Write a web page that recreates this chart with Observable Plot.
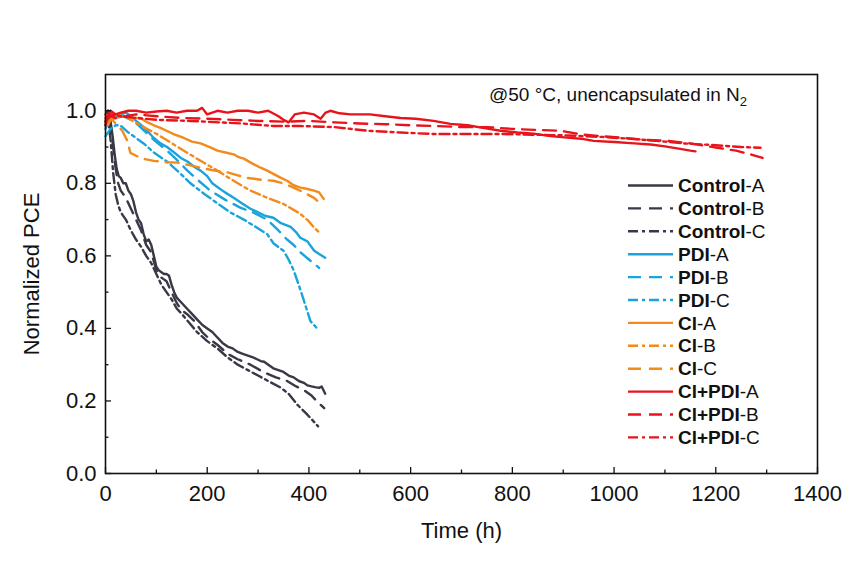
<!DOCTYPE html>
<html>
<head>
<meta charset="utf-8">
<script src="https://cdn.jsdelivr.net/npm/d3@7"></script>
<script src="https://cdn.jsdelivr.net/npm/@observablehq/plot@0.6"></script>
<style>
  html, body { margin: 0; padding: 0; background: #fff; }
</style>
</head>
<body>
<div id="chart"></div>
<script>
// ---- data: [time (h), normalized PCE] ----
const controlA = [[0,0.99],[5,1.0],[10,0.97],[14,0.93],[18,0.88],[22,0.84],[26,0.82],[30,0.815],[35,0.80],[40,0.80],[45,0.78],[50,0.77],[55,0.75],[60,0.72],[65,0.70],[70,0.69],[75,0.66],[80,0.64],[85,0.645],[90,0.63],[95,0.60],[100,0.57],[105,0.56],[110,0.555],[115,0.55],[120,0.55],[125,0.545],[130,0.52],[135,0.50],[140,0.485],[150,0.47],[160,0.455],[170,0.44],[180,0.425],[190,0.41],[200,0.40],[210,0.39],[220,0.375],[230,0.36],[240,0.35],[250,0.345],[260,0.335],[270,0.33],[280,0.325],[290,0.32],[298,0.315],[305,0.31],[312,0.308],[320,0.30],[330,0.29],[340,0.285],[350,0.28],[360,0.27],[370,0.265],[380,0.255],[390,0.25],[397,0.243],[405,0.24],[412,0.238],[420,0.236],[425,0.24],[432,0.22]];
const controlB = [[0,0.97],[5,1.0],[10,0.96],[15,0.90],[20,0.84],[25,0.80],[30,0.78],[40,0.76],[50,0.73],[60,0.70],[70,0.67],[80,0.63],[90,0.61],[100,0.56],[110,0.54],[120,0.53],[130,0.50],[140,0.47],[150,0.45],[160,0.44],[175,0.42],[190,0.39],[205,0.37],[220,0.355],[240,0.33],[260,0.315],[285,0.30],[310,0.28],[335,0.265],[357,0.255],[375,0.24],[390,0.23],[405,0.215],[415,0.20],[430,0.18]];
const controlC = [[0,0.96],[5,0.98],[10,0.92],[15,0.83],[20,0.77],[25,0.74],[30,0.72],[40,0.70],[50,0.67],[60,0.645],[70,0.625],[80,0.60],[90,0.58],[100,0.55],[110,0.52],[120,0.50],[130,0.48],[140,0.455],[150,0.44],[165,0.415],[180,0.39],[200,0.365],[220,0.345],[240,0.32],[260,0.30],[280,0.285],[300,0.27],[320,0.255],[344,0.237],[360,0.22],[377,0.19],[395,0.165],[405,0.15],[418,0.13]];

const pdiA = [[0,0.95],[5,0.97],[10,1.0],[15,0.99],[20,0.985],[30,0.99],[40,0.995],[50,0.985],[62,0.97],[75,0.955],[85,0.94],[95,0.925],[108,0.91],[121,0.90],[135,0.885],[148,0.87],[161,0.86],[175,0.845],[187,0.835],[200,0.82],[210,0.80],[220,0.79],[235,0.775],[252,0.76],[268,0.745],[285,0.73],[300,0.72],[315,0.71],[330,0.705],[345,0.69],[364,0.68],[375,0.665],[383,0.65],[397,0.64],[410,0.615],[420,0.605],[432,0.595]];
const pdiB = [[0,0.96],[10,0.99],[20,0.98],[35,0.985],[50,0.975],[65,0.96],[80,0.94],[95,0.92],[108,0.905],[121,0.89],[140,0.865],[161,0.835],[185,0.805],[206,0.78],[235,0.755],[265,0.733],[290,0.72],[318,0.70],[340,0.67],[357,0.645],[370,0.63],[383,0.61],[400,0.59],[420,0.567]];
const pdiC = [[0,0.93],[10,0.95],[20,0.96],[29,0.96],[45,0.94],[60,0.925],[75,0.91],[95,0.885],[121,0.86],[145,0.83],[167,0.80],[195,0.77],[220,0.745],[245,0.72],[272,0.70],[295,0.68],[318,0.66],[330,0.635],[350,0.614],[360,0.59],[370,0.56],[380,0.52],[390,0.477],[403,0.42],[416,0.40]];

const clA = [[0,0.97],[5,0.96],[10,0.975],[20,0.98],[30,0.985],[45,0.985],[55,0.98],[69,0.98],[80,0.97],[95,0.96],[108,0.953],[120,0.945],[135,0.935],[154,0.925],[170,0.915],[187,0.91],[205,0.90],[220,0.89],[236,0.885],[252,0.88],[262,0.872],[272,0.868],[288,0.855],[305,0.843],[318,0.835],[330,0.826],[345,0.815],[357,0.807],[370,0.795],[383,0.788],[395,0.785],[410,0.78],[420,0.775],[429,0.757]];
const clB = [[0,0.97],[15,0.985],[30,0.99],[45,0.98],[55,0.97],[75,0.955],[102,0.935],[125,0.915],[154,0.89],[187,0.862],[220,0.835],[252,0.807],[285,0.78],[318,0.76],[350,0.743],[383,0.716],[400,0.695],[410,0.678],[420,0.665]];
const clC = [[0,0.99],[10,0.98],[20,0.965],[33,0.945],[43,0.917],[49,0.884],[60,0.876],[73,0.868],[95,0.862],[120,0.858],[141,0.857],[165,0.85],[187,0.843],[215,0.835],[240,0.83],[260,0.822],[279,0.815],[305,0.81],[330,0.807],[350,0.80],[370,0.788],[390,0.775],[410,0.76],[416,0.752]];

const clpdiA = [[0,0.96],[5,0.99],[10,1.0],[20,0.99],[30,0.995],[45,1.0],[60,1.0],[80,0.995],[100,0.998],[120,1.0],[140,0.995],[160,1.0],[180,1.0],[190,1.008],[200,0.99],[220,1.0],[240,0.995],[260,1.0],[280,1.0],[300,0.995],[320,1.0],[340,0.985],[350,0.975],[360,0.968],[372,0.99],[390,0.995],[410,0.99],[423,0.978],[433,0.995],[442,1.0],[460,0.993],[482,0.99],[520,0.99],[550,0.985],[580,0.98],[610,0.978],[645,0.972],[678,0.964],[712,0.96],[745,0.952],[777,0.945],[810,0.94],[842,0.937],[875,0.93],[908,0.926],[940,0.922],[960,0.917],[1000,0.914],[1040,0.91],[1072,0.907],[1100,0.902],[1130,0.895],[1150,0.89],[1160,0.888]];
const clpdiB = [[0,0.97],[10,0.985],[20,0.98],[40,0.985],[60,0.99],[100,0.985],[150,0.98],[200,0.978],[250,0.975],[300,0.972],[350,0.97],[400,0.972],[450,0.968],[500,0.965],[550,0.963],[600,0.96],[650,0.958],[700,0.955],[750,0.955],[800,0.95],[850,0.947],[895,0.945],[935,0.935],[973,0.93],[1020,0.925],[1060,0.92],[1105,0.917],[1150,0.91],[1203,0.898],[1240,0.89],[1268,0.88],[1292,0.87]];
const clpdiC = [[0,0.98],[10,0.99],[30,0.985],[60,0.98],[100,0.975],[167,0.972],[267,0.965],[330,0.958],[383,0.958],[450,0.955],[515,0.945],[580,0.94],[645,0.936],[710,0.936],[777,0.936],[840,0.934],[908,0.932],[975,0.928],[1040,0.922],[1100,0.915],[1137,0.91],[1200,0.905],[1250,0.9],[1288,0.898]];

const seriesNames = ["Control-A","Control-B","Control-C","PDI-A","PDI-B","PDI-C","Cl-A","Cl-B","Cl-C","Cl+PDI-A","Cl+PDI-B","Cl+PDI-C"];
const seriesData  = [controlA, controlB, controlC, pdiA, pdiB, pdiC, clA, clB, clC, clpdiA, clpdiB, clpdiC];

const xMajorTicks = [0,200,400,600,800,1000,1200,1400];
const xMinorTicks = [100,300,500,700,900,1100,1300];
const yMajorTicks = [0.0,0.2,0.4,0.6,0.8,1.0];
const yMinorTicks = [0.1,0.3,0.5,0.7,0.9];

// ---- styles ----
const colors = {Control: "#383846", PDI: "#1ba3dc", Cl: "#f28a1c", "Cl+PDI": "#e8141c"};
const solid = null, dashed = "13,8", dashdot = "10,4,3,4";
const dashes = {
  "Control-A": solid, "Control-B": dashed, "Control-C": dashdot,
  "PDI-A": solid, "PDI-B": dashed, "PDI-C": dashdot,
  "Cl-A": solid, "Cl-B": dashdot, "Cl-C": dashed,
  "Cl+PDI-A": solid, "Cl+PDI-B": dashed, "Cl+PDI-C": dashdot
};
const groupOf = name => name.slice(0, name.lastIndexOf("-"));

const W = 857, H = 568;
const mL = 105, mR = 40, mT = 74, mB = 95;
const frameW = W - mL - mR, frameH = H - mT - mB;
const majorLen = 6, minorLen = 3.5;
const lineW = 2.4;
const FONT = "'Liberation Sans', Arial, sans-serif";

const lineMarks = seriesNames.map((name, i) => Plot.line(seriesData[i], {
  x: d => d[0], y: d => d[1],
  stroke: colors[groupOf(name)],
  strokeWidth: lineW,
  strokeDasharray: dashes[name],
  strokeLinejoin: "round"
}));

const plot = Plot.plot({
  width: W, height: H,
  marginLeft: mL, marginRight: mR, marginTop: mT, marginBottom: mB,
  style: {fontFamily: FONT, fontSize: "22px", background: "#fff", color: "#111"},
  x: {domain: [0, 1400]},
  y: {domain: [0, 1.1]},
  marks: [
    ...lineMarks,
    Plot.ruleX(xMajorTicks, {x: d => d, insetTop: frameH - majorLen, stroke: "#111", strokeWidth: 1.3}),
    Plot.ruleX(xMinorTicks, {x: d => d, insetTop: frameH - minorLen, stroke: "#111", strokeWidth: 1.3}),
    Plot.ruleY(yMajorTicks, {y: d => d, insetRight: frameW - majorLen, stroke: "#111", strokeWidth: 1.3}),
    Plot.ruleY(yMinorTicks, {y: d => d, insetRight: frameW - minorLen, stroke: "#111", strokeWidth: 1.3}),
    Plot.axisX(xMajorTicks, {tickSize: 0, tickPadding: 12, tickFormat: d => String(d), label: null, fontSize: 22}),
    Plot.axisY(yMajorTicks, {tickSize: 0, tickPadding: 9, tickFormat: d => d.toFixed(1), label: null, fontSize: 22}),
    Plot.text(["Time (h)"], {frameAnchor: "bottom", text: d => d, textAnchor: "middle", lineAnchor: "top", dy: 49, fontSize: 22}),
    Plot.text(["Normalized PCE"], {frameAnchor: "left", text: d => d, rotate: -90, textAnchor: "middle", lineAnchor: "bottom", dx: -67, fontSize: 22}),
    Plot.frame({stroke: "#111", strokeWidth: 1.6})
  ]
});

// ---- annotation & legend (layout in pixels) ----
const svg = d3.select(plot);
const ann = svg.append("text")
  .attr("x", 489).attr("y", 101)
  .attr("text-anchor", "start")
  .attr("font-size", 19)
  .attr("font-family", FONT)
  .attr("fill", "#111");
ann.append("tspan").text("@50 °C, unencapsulated in N");
ann.append("tspan").attr("font-size", 13).attr("dy", 5).text("2");

const leg = svg.append("g")
  .attr("font-family", FONT).attr("font-size", 19).attr("fill", "#111")
  .attr("text-anchor", "start");
const legX1 = 628, legX2 = 673, legTX = 678, legY0 = 185.5, legStep = 22.9;
seriesNames.forEach((name, i) => {
  const y = legY0 + i * legStep;
  leg.append("line")
    .attr("x1", legX1).attr("x2", legX2).attr("y1", y).attr("y2", y)
    .attr("stroke", colors[groupOf(name)])
    .attr("stroke-width", lineW)
    .attr("stroke-dasharray", dashes[name]);
  const t = leg.append("text").attr("x", legTX).attr("y", y + 6.6).attr("text-anchor", "start");
  const g = groupOf(name);
  t.append("tspan").attr("font-weight", "bold").text(g);
  t.append("tspan").text(name.slice(g.length));
});

document.getElementById("chart").appendChild(plot);
</script>
</body>
</html>
